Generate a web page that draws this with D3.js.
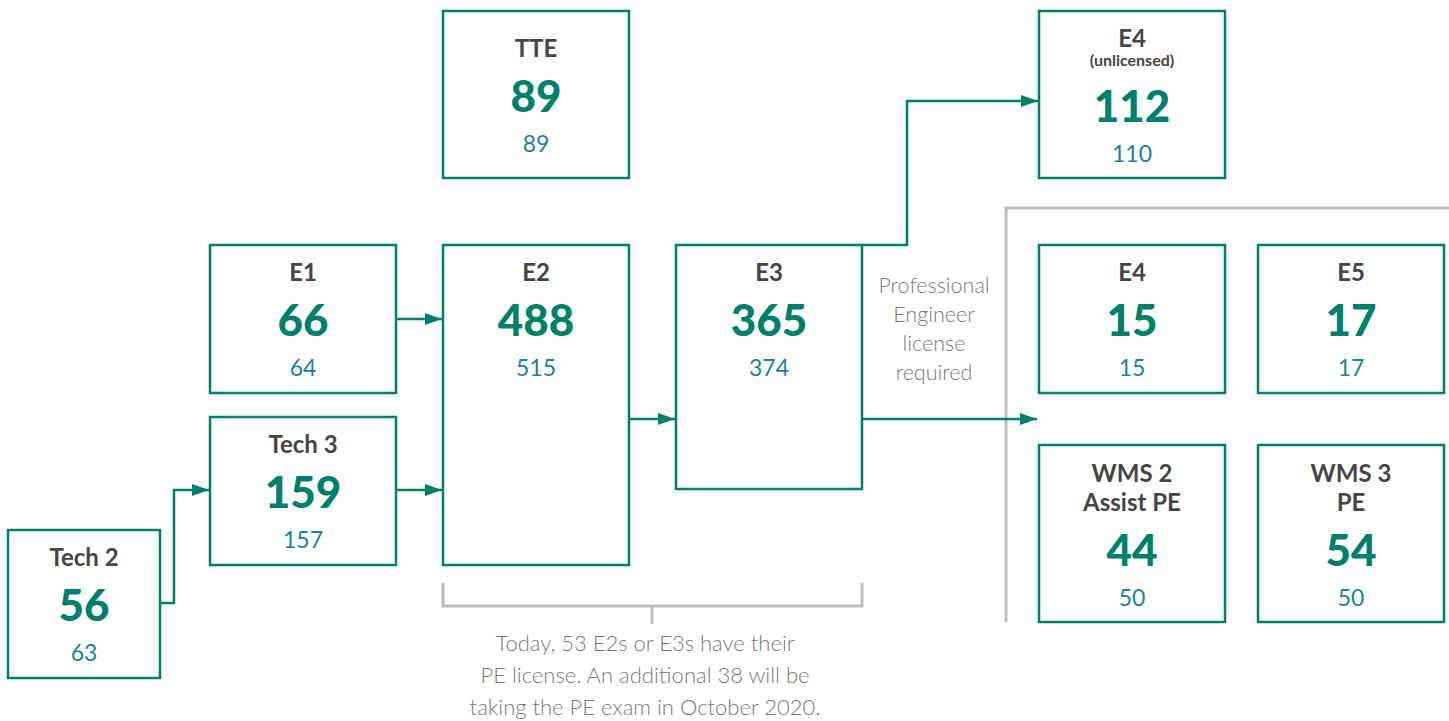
<!DOCTYPE html>
<html>
<head>
<meta charset="utf-8">
<script src="https://cdn.jsdelivr.net/npm/d3@7"></script>
<style>
  body { margin: 0; background: #fff; }
  svg { display: block; font-family: Lato, "Open Sans", sans-serif; }
</style>
</head>
<body>
<svg id="chart" width="1449" height="721"></svg>
<script>
// data
const ids = ['tech2', 'tech3', 'e1', 'tte', 'e2', 'e3', 'e4u', 'e4', 'e5', 'wms2', 'wms3'];
const titles = [['Tech 2'], ['Tech 3'], ['E1'], ['TTE'], ['E2'], ['E3'], ['E4'], ['E4'], ['E5'],
  ['WMS 2', 'Assist PE'], ['WMS 3', 'PE']];
const subtitles = ['', '', '', '', '', '', '(unlicensed)', '', '', '', ''];
const current = [56, 159, 66, 89, 488, 365, 112, 15, 17, 44, 54];
const previous = [63, 157, 64, 89, 515, 374, 110, 15, 17, 50, 50];
const links = [['tech2', 'tech3'], ['tech3', 'e2'], ['e1', 'e2'], ['e2', 'e3'], ['e3', 'e4u'], ['e3', 'licensed']];
const sideNote = ['Professional', 'Engineer', 'license', 'required'];
const footNote = ['Today, 53 E2s or E3s have their', 'PE license. An additional 38 will be',
  'taking the PE exam in October 2020.'];

// layout
const green = '#00806a';
const titleColor = '#454545';
const blue = '#1b7fa7';
const grey = '#bdbdbd';
const noteColor = '#7a7a7a';

const svg = d3.select('#chart');

const col = d3.scaleOrdinal().domain([0, 1, 2, 3, 4, 5]).range([8, 210, 443, 676, 1039, 1258]);
const row = d3.scaleOrdinal().domain(['top', 'mid', 'low', 'bottom']).range([11, 245, 417, 530]);

const layout = {
  tech2: {c: 0, r: 'bottom', w: 152, h: 148, pad: 27},
  tech3: {c: 1, r: 'low', w: 186, h: 148, pad: 27},
  e1: {c: 1, r: 'mid', w: 186, h: 148, pad: 27},
  tte: {c: 2, r: 'top', w: 186, h: 167, pad: 37},
  e2: {c: 2, r: 'mid', w: 186, h: 320, pad: 27},
  e3: {c: 3, r: 'mid', w: 186, h: 244, pad: 27},
  e4u: {c: 4, r: 'top', w: 186, h: 167, pad: 27},
  e4: {c: 4, r: 'mid', w: 186, h: 148, pad: 27},
  e5: {c: 5, r: 'mid', w: 186, h: 148, pad: 27},
  wms2: {c: 4, r: 445, w: 186, h: 177, pad: 28},
  wms3: {c: 5, r: 445, w: 186, h: 177, pad: 28},
};

const nodes = ids.map((id, i) => {
  const l = layout[id];
  return {
    id,
    titles: titles[i],
    subtitle: subtitles[i],
    value: current[i],
    prev: previous[i],
    x: col(l.c),
    y: typeof l.r === 'number' ? l.r : row(l.r),
    w: l.w,
    h: l.h,
    pad: l.pad,
  };
});
const byId = new Map(nodes.map((d) => [d.id, d]));

// arrow routes (elbows where needed)
const routes = {
  'tech2-tech3': (s, t) => [[s.x + s.w, 603], [174, 603], [174, t.y + 73], [t.x - 1, t.y + 73]],
  'tech3-e2': (s, t) => [[s.x + s.w, 490], [t.x - 1, 490]],
  'e1-e2': (s, t) => [[s.x + s.w, 319], [t.x - 1, 319]],
  'e2-e3': (s, t) => [[s.x + s.w, 419], [t.x - 1, 419]],
  'e3-e4u': (s, t) => [[s.x + s.w, s.y], [907, s.y], [907, 101], [t.x - 1, 101]],
  'e3-licensed': (s) => [[s.x + s.w, 419], [1037, 419]],
};

const defs = svg.append('defs');
defs.append('marker')
  .attr('id', 'arrow')
  .attr('markerUnits', 'userSpaceOnUse')
  .attr('viewBox', '0 -6 17 12')
  .attr('markerWidth', 17)
  .attr('markerHeight', 12)
  .attr('refX', 17)
  .attr('refY', 0)
  .attr('orient', 'auto')
  .append('path')
  .attr('d', 'M0,-6L17,0L0,6Z')
  .attr('fill', green);

const line = d3.line();

// grey brackets
const brackets = svg.append('g')
  .attr('fill', 'none')
  .attr('stroke', grey)
  .attr('stroke-width', 3);

brackets.append('path')
  .attr('d', line([[1006, 622], [1006, 208], [1449, 208]]));

const e2 = byId.get('e2');
const e3 = byId.get('e3');
const bx0 = e2.x;
const bx1 = e3.x + e3.w;
brackets.append('path')
  .attr('d', line([[bx0, 583], [bx0, 606], [bx1, 606], [bx1, 583]]));
brackets.append('path')
  .attr('d', line([[652, 606], [652, 624]]));

// arrows
svg.append('g')
  .selectAll('path')
  .data(links)
  .join('path')
  .attr('fill', 'none')
  .attr('stroke', green)
  .attr('stroke-width', 2.5)
  .attr('marker-end', 'url(#arrow)')
  .attr('d', ([s, t]) => line(routes[`${s}-${t}`](byId.get(s), byId.get(t))));

// boxes
const box = svg.append('g')
  .selectAll('g')
  .data(nodes)
  .join('g')
  .attr('transform', (d) => `translate(${d.x},${d.y})`);

box.append('rect')
  .attr('width', (d) => d.w)
  .attr('height', (d) => d.h)
  .attr('fill', '#fff')
  .attr('stroke', green)
  .attr('stroke-width', 2.5);

box.each(function(d) {
  const g = d3.select(this);
  const cx = d.w / 2;
  let y = d.pad;
  d.titles.forEach((t, i) => {
    if (i > 0) y += 29;
    g.append('text')
      .attr('x', cx).attr('y', y).attr('dy', '0.36em')
      .attr('text-anchor', 'middle')
      .attr('font-size', 24).attr('font-weight', 700)
      .attr('fill', titleColor)
      .text(t);
  });
  if (d.subtitle) {
    y += 22;
    g.append('text')
      .attr('x', cx).attr('y', y).attr('dy', '0.36em')
      .attr('text-anchor', 'middle')
      .attr('font-size', 16).attr('font-weight', 700)
      .attr('fill', titleColor)
      .text(d.subtitle);
    y += 46;
  } else {
    y += 48;
  }
  g.append('text')
    .attr('x', cx).attr('y', y).attr('dy', '0.36em')
    .attr('text-anchor', 'middle')
    .attr('font-size', 44).attr('font-weight', 900)
    .attr('fill', green)
    .text(d.value);
  y += 48;
  g.append('text')
    .attr('x', cx).attr('y', y).attr('dy', '0.36em')
    .attr('text-anchor', 'middle')
    .attr('font-size', 23).attr('font-weight', 400)
    .attr('fill', blue)
    .text(d.prev);
});

// notes
svg.append('g')
  .selectAll('text')
  .data(sideNote)
  .join('text')
  .attr('x', 934)
  .attr('y', (d, i) => 285 + i * 29.2)
  .attr('dy', '0.36em')
  .attr('text-anchor', 'middle')
  .attr('font-size', 21.5)
  .attr('font-weight', 300)
  .attr('fill', noteColor)
  .text((d) => d);

svg.append('g')
  .selectAll('text')
  .data(footNote)
  .join('text')
  .attr('x', 645)
  .attr('y', (d, i) => 643 + i * 32)
  .attr('dy', '0.36em')
  .attr('text-anchor', 'middle')
  .attr('font-size', 22)
  .attr('font-weight', 300)
  .attr('fill', noteColor)
  .text((d) => d);
</script>
</body>
</html>
